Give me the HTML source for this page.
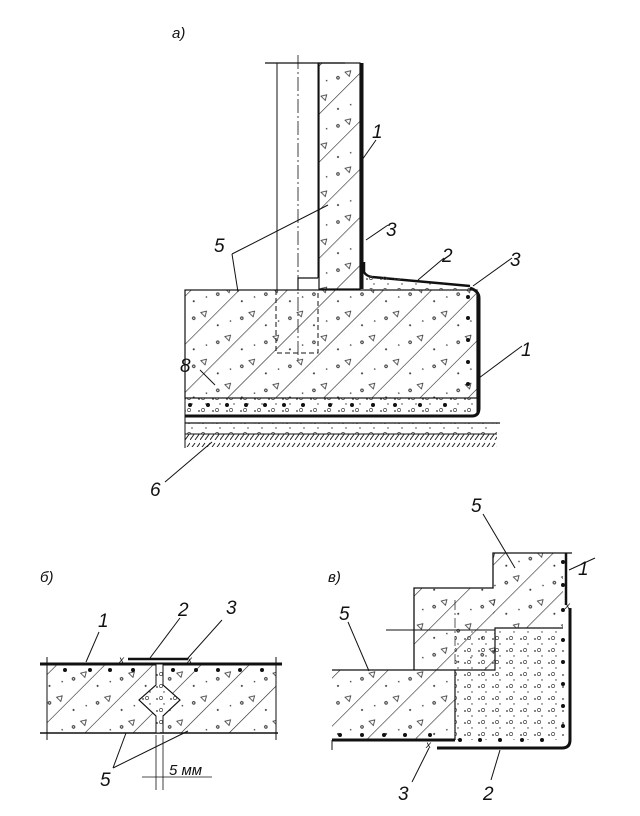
<!DOCTYPE html>
<html><head><meta charset="utf-8"><style>
html,body{margin:0;padding:0;background:#fff}
svg{display:block}
text{font-family:"Liberation Sans",sans-serif;font-style:italic;fill:#111}
</style></head><body>
<svg width="640" height="816" viewBox="0 0 640 816" xmlns="http://www.w3.org/2000/svg">
<defs>
<pattern id="h" width="34" height="34" patternUnits="userSpaceOnUse" patternTransform="rotate(45)">
<line x1="0" y1="0" x2="0" y2="34" stroke="#222" stroke-width="1.2"/>
<circle cx="10" cy="8" r="1" fill="#333"/><circle cx="22" cy="20" r="1.3" fill="none" stroke="#333"/>
<circle cx="16" cy="30" r="0.8" fill="#333"/><path d="M26 6 l3 5 h-6z" fill="none" stroke="#333" stroke-width=".8"/>
</pattern>
<pattern id="d" width="14" height="12" patternUnits="userSpaceOnUse">
<circle cx="3" cy="3" r=".9" fill="#333"/><circle cx="10" cy="8" r=".7" fill="#333"/><circle cx="7" cy="2" r="1.6" fill="none" stroke="#444" stroke-width=".7"/>
</pattern>
<pattern id="g" width="10" height="10" patternUnits="userSpaceOnUse">
<path d="M0 10 L5 3 M5 10 L10 3" stroke="#222" stroke-width="1"/>
</pattern>
</defs>
<g stroke="#111" fill="none">
<!-- (a) -->
<text x="172" y="38" font-size="15" stroke="none" font-style="normal">а)</text>
<line x1="265" y1="63" x2="345" y2="63" stroke-width="1.2"/>
<line x1="277" y1="63" x2="277" y2="290" stroke-width="1"/>
<line x1="298" y1="55" x2="298" y2="360" stroke-width=".8" stroke-dasharray="14,3,2,3"/>
<line x1="318" y1="63" x2="318" y2="278" stroke-width="1"/>
<rect x="319" y="63" width="41" height="226" fill="url(#h)" stroke-width="1.2"/>
<path d="M362 63 V289" stroke-width="3"/>
<path d="M298 290 V278 H318" stroke-width="1.2"/>
<rect x="185" y="290" width="292" height="108" fill="url(#h)" stroke-width="1.2"/>
<path d="M276 290 V353 H318 V290" stroke-width="1" stroke-dasharray="5,3"/>
<path d="M364 262 V272 Q366 276 372 277 L470 286" stroke-width="2.5"/>
<path d="M364 289 V274 L470 287 L470 290 Z" fill="url(#d)" stroke="none"/>
<rect x="185" y="398" width="292" height="17" fill="url(#d)" stroke-width="1"/>
<path d="M185 416 H472 Q479 416 479 408 V298 Q479 291 470 288" stroke-width="3"/>
<g fill="#111" stroke="none">
<circle cx="190" cy="405" r="2"/><circle cx="208" cy="405" r="2"/><circle cx="227" cy="405" r="2"/><circle cx="246" cy="405" r="2"/><circle cx="265" cy="405" r="2"/><circle cx="284" cy="405" r="2"/><circle cx="303" cy="405" r="2"/><circle cx="330" cy="405" r="2"/><circle cx="352" cy="405" r="2"/><circle cx="373" cy="405" r="2"/><circle cx="395" cy="405" r="2"/><circle cx="420" cy="405" r="2"/><circle cx="445" cy="405" r="2"/>
<circle cx="468" cy="297" r="2"/><circle cx="468" cy="318" r="2"/><circle cx="468" cy="340" r="2"/><circle cx="468" cy="362" r="2"/><circle cx="468" cy="384" r="2"/>
</g>
<line x1="185" y1="423" x2="500" y2="423" stroke-width="1.2"/>
<rect x="185" y="423" width="312" height="11" fill="url(#d)" stroke="none"/>
<line x1="185" y1="434" x2="497" y2="434" stroke-width="1"/>
<rect x="185" y="434" width="312" height="13" fill="url(#g)" stroke="none"/>
<line x1="185" y1="290" x2="185" y2="448" stroke-width="1"/>
<line x1="362" y1="160" x2="376" y2="140"/>
<line x1="366" y1="240" x2="388" y2="225"/>
<line x1="418" y1="280" x2="444" y2="258"/>
<line x1="473" y1="286" x2="512" y2="258"/>
<line x1="479" y1="378" x2="522" y2="346"/>
<path d="M232 254 L328 205 M232 254 L238 292"/>
<line x1="200" y1="370" x2="215" y2="385"/>
<line x1="165" y1="482" x2="212" y2="442"/>
<g stroke="none" font-size="19">
<text x="372" y="138">1</text><text x="386" y="236">3</text><text x="442" y="262">2</text><text x="510" y="266">3</text>
<text x="214" y="252">5</text><text x="180" y="372">8</text><text x="521" y="356">1</text><text x="150" y="496">6</text>
</g>
<!-- (б) -->
<text x="40" y="582" font-size="15" stroke="none" font-style="normal">б)</text>
<rect x="47" y="664" width="229" height="69" fill="url(#h)" stroke="none"/>
<line x1="40" y1="664" x2="282" y2="664" stroke-width="3"/>
<line x1="40" y1="733" x2="278" y2="733" stroke-width="1.4"/>
<line x1="47" y1="657" x2="47" y2="740"/><line x1="276" y1="657" x2="276" y2="740"/>
<path d="M156 664 V685 L139 700 L156 716 V733 H163 V716 L180 700 L163 685 V664 Z" fill="#fff" stroke-width="1"/>
<path d="M156 664 V685 L139 700 L156 716 V733 H163 V716 L180 700 L163 685 V664 Z" fill="url(#d)" stroke-width="1"/>
<line x1="128" y1="659" x2="188" y2="659" stroke-width="2.5"/>
<text x="119" y="663" font-size="10" stroke="none">x</text><text x="187" y="663" font-size="10" stroke="none">x</text>
<g fill="#111" stroke="none"><circle cx="65" cy="670" r="2"/><circle cx="90" cy="670" r="2"/><circle cx="110" cy="670" r="2"/><circle cx="133" cy="670" r="2"/><circle cx="173" cy="670" r="2"/><circle cx="196" cy="670" r="2"/><circle cx="218" cy="670" r="2"/><circle cx="240" cy="670" r="2"/><circle cx="262" cy="670" r="2"/></g>
<line x1="156" y1="735" x2="156" y2="790" stroke-width=".8"/><line x1="163" y1="735" x2="163" y2="790" stroke-width=".8"/>
<line x1="142" y1="777" x2="212" y2="777" stroke-width=".8"/>
<line x1="86" y1="662" x2="99" y2="632"/><line x1="150" y1="658" x2="180" y2="618"/><line x1="188" y1="658" x2="222" y2="620"/>
<path d="M113 768 L126 733 M113 768 L188 731"/>
<g stroke="none" font-size="19"><text x="98" y="627">1</text><text x="178" y="616">2</text><text x="226" y="614">3</text><text x="100" y="786">5</text><text x="169" y="775" font-size="15">5 мм</text></g>
<!-- (в) -->
<text x="328" y="582" font-size="15" stroke="none" font-style="normal">в)</text>
<rect x="332" y="670" width="123" height="70" fill="url(#h)" stroke="none"/>
<rect x="414" y="588" width="81" height="82" fill="url(#h)" stroke="none"/>
<rect x="493" y="553" width="70" height="75" fill="url(#h)" stroke="none"/>
<rect x="455" y="630" width="110" height="110" fill="url(#d)" stroke="none"/>
<path d="M332 670 H414 V588 H493 V553 H572" stroke-width="1.3"/>
<path d="M455 670 V740" stroke-width="1.2"/><path d="M414 670 H495 V628 H563" stroke-width="1.2"/>
<line x1="386" y1="630" x2="495" y2="630" stroke-width="1"/>
<line x1="455" y1="600" x2="455" y2="665" stroke-width=".7" stroke-dasharray="10,3,2,3"/>
<path d="M332 740 H455" stroke-width="3"/>
<path d="M437 748 H562 Q570 748 570 740 V608" stroke-width="3"/>
<path d="M566 553 V605" stroke-width="2.5"/>
<line x1="332" y1="740" x2="332" y2="750"/>
<g fill="#111" stroke="none"><circle cx="340" cy="735" r="2"/><circle cx="362" cy="735" r="2"/><circle cx="384" cy="735" r="2"/><circle cx="405" cy="735" r="2"/><circle cx="430" cy="735" r="2"/><circle cx="460" cy="740" r="2"/><circle cx="480" cy="740" r="2"/><circle cx="500" cy="740" r="2"/><circle cx="522" cy="740" r="2"/><circle cx="542" cy="740" r="2"/>
<circle cx="563" cy="562" r="2"/><circle cx="563" cy="585" r="2"/><circle cx="563" cy="610" r="2"/><circle cx="563" cy="640" r="2"/><circle cx="563" cy="662" r="2"/><circle cx="563" cy="684" r="2"/><circle cx="563" cy="706" r="2"/><circle cx="563" cy="726" r="2"/></g>
<text x="565" y="609" font-size="10" stroke="none">x</text><text x="426" y="748" font-size="10" stroke="none">x</text>
<line x1="483" y1="514" x2="515" y2="568"/><line x1="569" y1="570" x2="595" y2="558"/>
<line x1="348" y1="622" x2="369" y2="671"/>
<line x1="412" y1="782" x2="429" y2="748"/><line x1="491" y1="780" x2="500" y2="750"/>
<g stroke="none" font-size="19"><text x="471" y="512">5</text><text x="578" y="575">1</text><text x="339" y="620">5</text><text x="398" y="800">3</text><text x="483" y="800">2</text></g>
</g>
</svg>
</body></html>
